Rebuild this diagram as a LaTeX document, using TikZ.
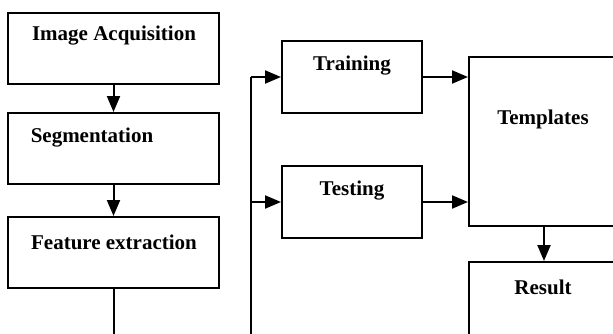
\documentclass[tikz,border=0pt]{standalone}
\usepackage{fontspec}
\setmainfont{Liberation Serif}
\usetikzlibrary{arrows.meta,calc}
\begin{document}
\begin{tikzpicture}[x=1pt,y=1pt,
  box/.style={draw,line width=2pt,inner sep=0pt,anchor=center},
  lbl/.style={font=\fontsize{21}{23}\selectfont\bfseries,inner sep=0pt},
  conn/.style={line width=2pt},
  arr/.style={conn,-{Triangle[length=16pt,width=13pt]}}]
\useasboundingbox (0,0) rectangle (613,333);
\clip (0,0) rectangle (613,333);
% boxes
\node[box,minimum width=211pt,minimum height=71pt] (ia) at (113.5,284.5) {};
\node[box,minimum width=211pt,minimum height=71pt] (seg) at (113.5,184.5) {};
\node[box,minimum width=211pt,minimum height=71pt] (fe) at (113.5,80.5) {};
\node[box,minimum width=140pt,minimum height=72pt] (tr) at (352,256) {};
\node[box,minimum width=140pt,minimum height=72pt] (te) at (352,131) {};
\node[box,minimum width=181pt,minimum height=169pt] (tp) at (559.5,191.5) {};
\node[box,minimum width=181pt,minimum height=118pt] (res) at (559.5,12) {};
% labels
\node[lbl] (tia) at (114,297) {Image Acquisition};
\node[lbl] (tseg) at (92,195) {Segmentation};
\node[lbl] (tfe) at (114,91) {Feature extraction};
\node[lbl] (ttr) at (352,267) {Training};
\node[lbl] (tte) at (352,142) {Testing};
\node[lbl] (ttp) at (543,214) {Templates};
\node[lbl] (tres) at (543,46) {Result};
% connectors
\coordinate (low) at (113.5,-20);
\coordinate (bus) at (251,-20);
\draw[arr] (ia) -- (seg);
\draw[arr] (seg) -- (fe);
\draw[conn] (fe.south) -- (low) -- (bus) -- (bus |- tr.west);
\draw[arr] (bus |- tr.west) -- (tr.west);
\draw[arr] (bus |- te.west) -- (te.west);
\draw[arr] (tr.east) -- (tr.east -| tp.west);
\draw[arr] (te.east) -- (te.east -| tp.west);
\draw[arr] (544,0 |- tp.south) -- (544,0 |- res.north);
\end{tikzpicture}
\end{document}
